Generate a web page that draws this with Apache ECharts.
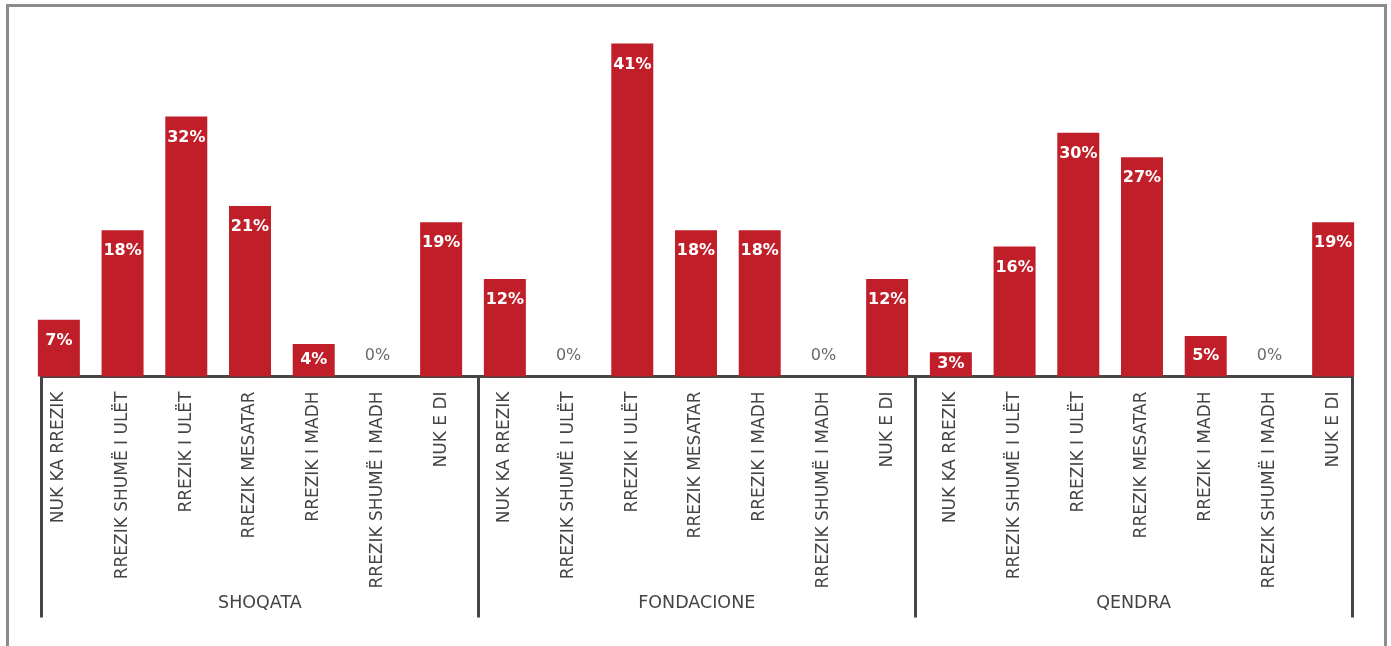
<!DOCTYPE html>
<html>
<head>
<meta charset="utf-8">
<script src="https://cdn.jsdelivr.net/npm/echarts@6/dist/echarts.min.js"></script>
<style>
  html, body { margin: 0; padding: 0; background: #fff; }
  #chart { position: absolute; left: 0; top: 0; width: 1391px; height: 646px; }
  #frame {
    position: absolute; left: 6px; top: 4px; width: 1381px; height: 700px;
    border: 3px solid #8c8c8c; box-sizing: border-box; pointer-events: none;
  }
</style>
</head>
<body>
<div id="chart"></div>
<div id="frame"></div>
<script>
// Organisation types (outer axis level)
const groups = ['SHOQATA', 'FONDACIONE', 'QENDRA'];
// Risk levels (inner axis level), repeated for each organisation type
const levels = ['NUK KA RREZIK', 'RREZIK SHUMË I ULËT', 'RREZIK I ULËT', 'RREZIK MESATAR',
                'RREZIK I MADH', 'RREZIK SHUMË I MADH', 'NUK E DI'];
// Shares in percent
const shoqata    = [7, 18, 32, 21, 4, 0, 19];
const fondacione = [12, 0, 41, 18, 18, 0, 12];
const qendra     = [3, 16, 30, 27, 5, 0, 19];

const seriesByGroup = [shoqata, fondacione, qendra];
const categories = [];
const values = [];
seriesByGroup.forEach(function (vals) {
  levels.forEach(function (lv, i) {
    categories.push(lv);
    values.push(vals[i]);
  });
});

const FONT = 'DejaVu Sans';
const TEXT = '#444444';

// Zero shares get a plain grey label above the baseline; short bars get a centred label.
const barData = values.map(function (v) {
  if (v === 0) {
    return {
      value: v,
      label: { position: 'top', distance: 13, color: '#6a6a6a', fontWeight: 'normal' }
    };
  }
  if (v <= 5) {
    return { value: v, label: { position: 'inside' } };
  }
  return { value: v };
});

const chart = echarts.init(document.getElementById('chart'), null, { renderer: 'canvas' });
chart.setOption({
  animation: false,
  backgroundColor: '#ffffff',
  grid: [
    { left: 27, right: 26, top: 11, bottom: 269.5 },
    { left: 41.5, right: 39, top: 11, bottom: 269.5 }
  ],
  xAxis: [
    {
      gridIndex: 0,
      type: 'category',
      data: categories,
      axisLine: { show: false },
      axisTick: { show: false },
      axisLabel: {
        interval: 0, rotate: 90, margin: 15,
        fontFamily: FONT, fontSize: 17, color: TEXT
      }
    },
    {
      gridIndex: 1,
      type: 'category',
      data: groups,
      boundaryGap: true,
      axisLine: { show: true, lineStyle: { color: '#454545', width: 3 } },
      axisTick: { show: true, length: 241, lineStyle: { color: '#454545', width: 3 } },
      axisLabel: { margin: 218, fontFamily: FONT, fontSize: 17.5, color: TEXT }
    }
  ],
  yAxis: [
    { gridIndex: 0, type: 'value', min: 0, max: 45, show: false, splitLine: { show: false } },
    { gridIndex: 1, type: 'value', min: 0, max: 45, show: false, splitLine: { show: false } }
  ],
  series: [{
    type: 'bar',
    xAxisIndex: 0,
    yAxisIndex: 0,
    data: barData,
    barWidth: 42,
    itemStyle: { color: '#C01F29' },
    label: {
      show: true,
      position: 'insideTop',
      distance: 13,
      formatter: '{c}%',
      fontFamily: FONT,
      fontSize: 16,
      fontWeight: 'bold',
      color: '#ffffff'
    }
  }]
});
</script>
</body>
</html>
